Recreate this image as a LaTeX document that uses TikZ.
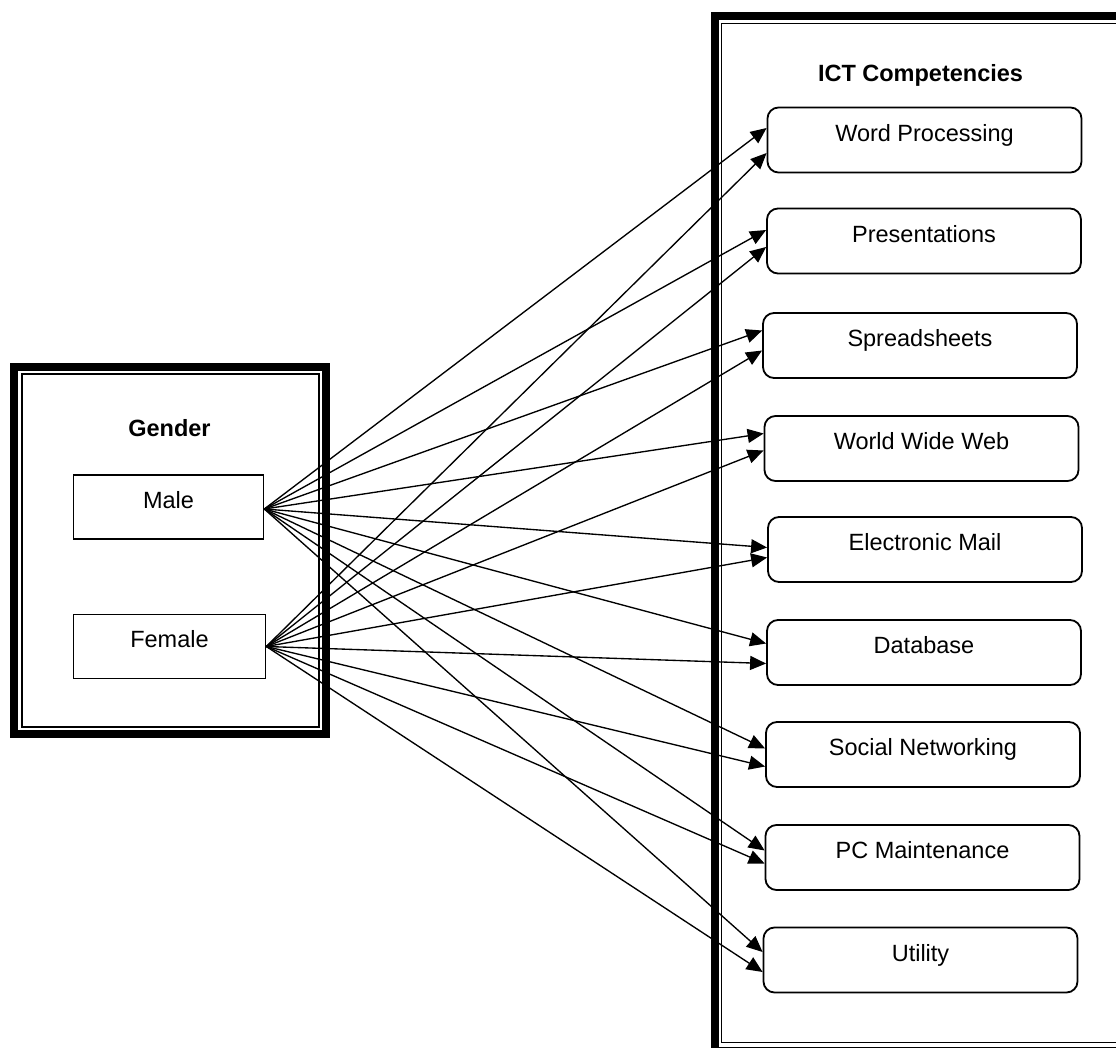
\documentclass[tikz,border=0pt]{standalone}
\usepackage{fontspec}
\setmainfont{Liberation Sans}
\usetikzlibrary{arrows.meta}
\begin{document}
\begin{tikzpicture}[x=1pt,y=-1pt,
  txt/.style={font=\fontsize{23.5}{28}\selectfont},
  gbox/.style={draw, line width=1.6pt, minimum width=190pt, minimum height=64pt, inner sep=0pt, text height=17pt, text depth=14.2pt, txt},
  cbox/.style={draw, line width=1.8pt, rounded corners=11pt, minimum width=314pt, minimum height=65pt, inner sep=0pt, text height=17pt, text depth=14.2pt, txt},
  arr/.style={line width=1.35pt, -{Triangle[length=16pt,width=14pt]}},
  ttl/.style={font=\fontsize{23.5}{28}\selectfont\bfseries, anchor=base, inner sep=0pt}
]
\useasboundingbox (0,0) rectangle (1116,1048);
\begin{scope}
\clip (0,0) rectangle (1116,1048);
\draw[line width=8pt] (14,367) rectangle (326,734);
\draw[line width=1.5pt] (22,374) rectangle (319,727);
\draw[line width=8pt] (714.5,16) rectangle (1140,1051);
\draw[line width=1.5pt] (721.5,23.5) rectangle (1125,1042.5);
\end{scope}

\node[ttl] (gender) at (169.5,436) {Gender};
\node[ttl] (ict) at (920.5,82) {ICT Competencies};

\node[gbox] (male) at (168.5,507) {Male};
\node[gbox, minimum width=192pt] (female) at (169.5,646.5) {Female};

\node[cbox] (wp) at (924.5,140) {Word Processing};
\node[cbox] (pres) at (924,241) {Presentations};
\node[cbox] (spr) at (920,345.5) {Spreadsheets};
\node[cbox] (www) at (921.5,448.5) {World Wide Web};
\node[cbox] (mail) at (925,549.5) {Electronic Mail};
\node[cbox] (db) at (924,652.5) {Database};
\node[cbox] (sn) at (923,754.5) {Social Networking};
\node[cbox] (pcm) at (922.5,857.5) {PC Maintenance};
\node[cbox] (util) at (920.5,960) {Utility};

\draw[arr] ([yshift=-2pt]male.east) -- ([yshift=12pt]wp.west);
\draw[arr] (female.east) -- ([yshift=-13pt]wp.west);
\draw[arr] ([yshift=-2pt]male.east) -- ([yshift=11pt]pres.west);
\draw[arr] (female.east) -- ([yshift=-6pt]pres.west);
\draw[arr] ([yshift=-2pt]male.east) -- ([yshift=15pt]spr.west);
\draw[arr] (female.east) -- ([yshift=-5pt]spr.west);
\draw[arr] ([yshift=-2pt]male.east) -- ([yshift=15pt]www.west);
\draw[arr] (female.east) -- ([yshift=-2pt]www.west);
\draw[arr] ([yshift=-2pt]male.east) -- ([yshift=2pt]mail.west);
\draw[arr] (female.east) -- ([yshift=-8pt]mail.west);
\draw[arr] ([yshift=-2pt]male.east) -- ([yshift=9pt]db.west);
\draw[arr] (female.east) -- ([yshift=-11pt]db.west);
\draw[arr] ([yshift=-2pt]male.east) -- ([yshift=6pt]sn.west);
\draw[arr] (female.east) -- ([yshift=-12pt]sn.west);
\draw[arr] ([yshift=-2pt]male.east) -- ([yshift=7pt]pcm.west);
\draw[arr] (female.east) -- ([yshift=-6pt]pcm.west);
\draw[arr] ([yshift=-2pt]male.east) -- ([yshift=8pt]util.west);
\draw[arr] (female.east) -- ([yshift=-12pt]util.west);
\end{tikzpicture}
\end{document}
